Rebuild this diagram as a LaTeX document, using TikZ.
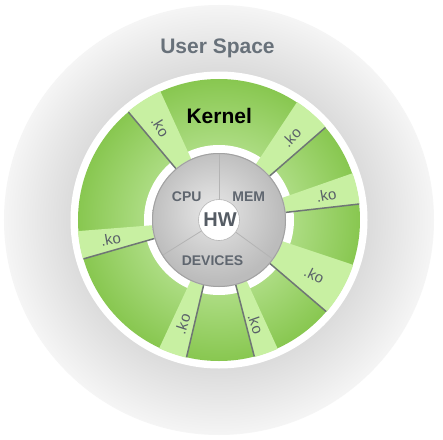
\documentclass[tikz,border=0pt]{standalone}
\usepackage{fontspec}
\setmainfont{Liberation Sans}
\definecolor{usrtxt}{HTML}{68717A}
\definecolor{lbltxt}{HTML}{5F666F}
\definecolor{kotxt}{HTML}{596069}
\definecolor{tabfill}{HTML}{C8F0A2}
\definecolor{tabline}{HTML}{6F7675}
\definecolor{grin}{HTML}{ACDC82}
\definecolor{grout}{HTML}{88C750}
\definecolor{usin}{HTML}{DCDCDC}
\definecolor{usout}{HTML}{F5F5F5}
\definecolor{hwin}{HTML}{E6E6E6}
\definecolor{hwmid}{HTML}{D8D8D8}
\definecolor{hwout}{HTML}{BCBCBC}
\definecolor{hwrim}{HTML}{A2A2A2}
\definecolor{divcol}{HTML}{B4B4B4}
\pgfdeclareradialshading{usershade}{\pgfpoint{0bp}{0bp}}{color(0bp)=(usin); color(17.4bp)=(usin); color(25bp)=(usout); color(50bp)=(usout)}
\pgfdeclareradialshading{greenshade}{\pgfpoint{0bp}{0bp}}{color(0bp)=(grin); color(13.3bp)=(grin); color(25bp)=(grout); color(50bp)=(grout)}
\pgfdeclareradialshading{hwshade}{\pgfpoint{-3bp}{4bp}}{color(0bp)=(hwin); color(9bp)=(hwmid); color(25bp)=(hwout); color(50bp)=(hwout)}
\tikzset{
  kolabel/.style={font=\fontsize{15}{15}\selectfont, text=kotxt, inner sep=0pt},
  hwlabel/.style={font=\bfseries\fontsize{14}{14}\selectfont, text=lbltxt, inner sep=0pt},
  bigtitle/.style={font=\bfseries\fontsize{21}{21}\selectfont, inner sep=0pt, anchor=base},
  tabedge/.style={draw=tabline, line width=1.5pt},
  divline/.style={draw=divcol, line width=0.8pt}
}
\begin{document}
\begin{tikzpicture}[x=1pt,y=1pt]
\useasboundingbox (-219,-219) rectangle (224,220);
\fill[white] (-219,-219) rectangle (224,220);
% user space
\shade[shading=usershade] (0,0) circle[radius=215pt];
% kernel ring
\fill[white] (0,0) circle[radius=148.5pt];
\shade[shading=greenshade] (0,0) circle[radius=141pt];
\fill[white] (0,0) circle[radius=75pt];
% modules
\foreach \a/\b/\l/\c/\r [count=\i] in {114.5/130/130/122.3/-57.7, 41/56.5/41/48.8/47, 6.5/19.3/6.5/12.9/10, -40.5/-18.5/-40.5/-30/-26, -75.5/-65.5/-75.5/-70.5/-70.5, -115/-103.3/-103.3/-109.2/72, 184.5/196/196/190.3/10.3}{
  \fill[tabfill] (\a:67pt) -- (\a:141.5pt) arc[start angle=\a, end angle=\b, radius=141.5pt] -- (\b:67pt) arc[start angle=\b, end angle=\a, radius=67pt] -- cycle;
  \path[tabedge] (\l:67pt) -- (\l:141pt);
  \node[kolabel, rotate=\r] (ko\i) at (\c:110pt) {.ko};
}
% hardware
\shade[shading=hwshade] (0,0) circle[radius=67pt];
\draw[hwrim, line width=1pt] (0,0) circle[radius=66.5pt];
\path[divline] (90:20.5pt) -- (90:66pt);
\path[divline] (212:20.5pt) -- (212:66pt);
\path[divline] (-36:20.5pt) -- (-36:66pt);
\fill[white, draw=divcol, line width=0.6pt] (0,0) circle[radius=20.5pt];
\node[font=\bfseries\fontsize{20}{20}\selectfont, text=lbltxt!90!black, inner sep=0pt] (hw) at (1,0) {HW};
\node[hwlabel] (cpu) at (-32.3,23.8) {CPU};
\node[hwlabel] (mem) at (29.8,23.8) {MEM};
\node[hwlabel] (dev) at (-6.5,-40.5) {DEVICES};
\node[bigtitle, text=usrtxt] (user) at (-1.5,166.7) {User Space};
\node[bigtitle, text=black] (kernel) at (0.2,96.7) {Kernel};
\end{tikzpicture}
\end{document}
